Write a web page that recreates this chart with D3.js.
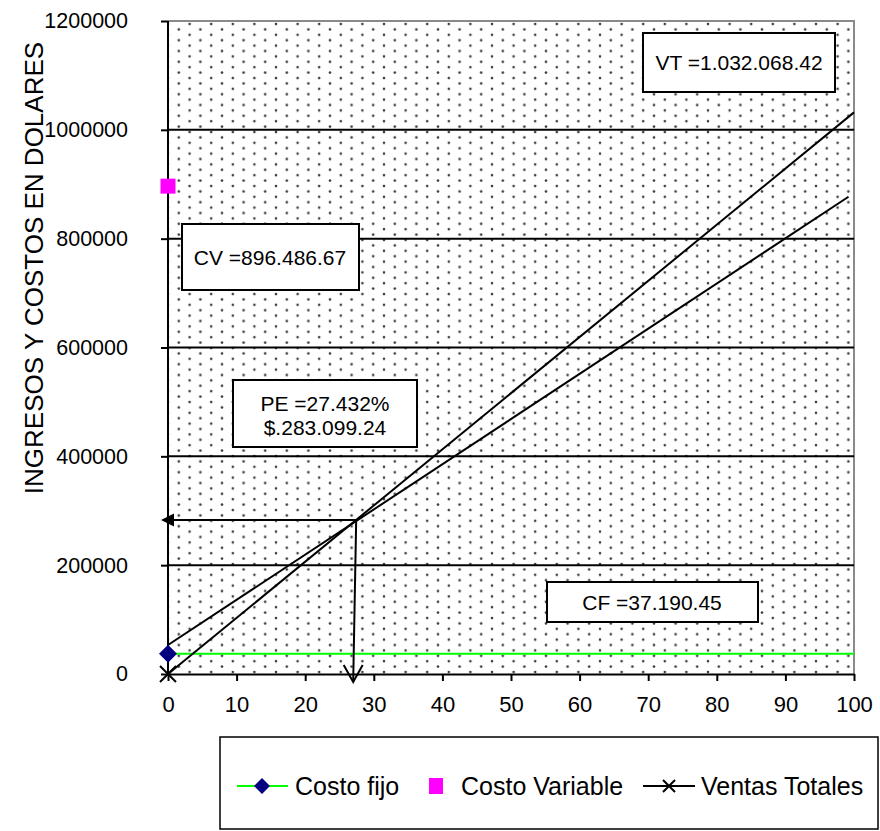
<!DOCTYPE html>
<html>
<head>
<meta charset="utf-8">
<script src="https://cdn.jsdelivr.net/npm/d3@7"></script>
<style>
  body { margin: 0; background: #fff; }
  text { font-family: "Liberation Sans", Arial, sans-serif; fill: #000; }
</style>
</head>
<body>
<svg id="chart" width="880" height="831"></svg>
<script>
// ---- data ----
const xTicks = [0, 10, 20, 30, 40, 50, 60, 70, 80, 90, 100];
const yTicks = [0, 200000, 400000, 600000, 800000, 1000000, 1200000];
const costoFijo = 37190.45;
const costoVariable = 896486.67;
const ventasTotales = 1032068.42;
const pePorcentaje = 27.432;
const peValor = 283099.24;
const costoFijoLinea = [[0, costoFijo], [100, costoFijo]];
const ventasLinea = [[0, 0], [100, ventasTotales]];
const costoTotalLinea = [[0, 53300], [99.2, 877000]];
const etiquetas = {
  vt: "VT =1.032.068.42",
  cv: "CV =896.486.67",
  pe1: "PE =27.432%",
  pe2: "$.283.099.24",
  cf: "CF =37.190.45"
};
const leyenda = ["Costo fijo", "Costo Variable", "Ventas Totales"];

// ---- layout ----
const svg = d3.select("#chart");
const plot = { left: 168, right: 854, top: 21, bottom: 674 };
const x = d3.scaleLinear().domain([0, 100]).range([plot.left, plot.right]);
const y = d3.scaleLinear().domain([0, 1200000]).range([plot.bottom, plot.top]);
const FONT = '"Liberation Sans", Arial, sans-serif';

// dotted fill pattern for the plot area
const defs = svg.append("defs");
const pat = defs.append("pattern")
  .attr("id", "dots").attr("patternUnits", "userSpaceOnUse")
  .attr("x", plot.left).attr("y", plot.top)
  .attr("width", 21.6).attr("height", 10.8);
pat.append("circle").attr("cx", 0).attr("cy", 3).attr("r", 1.3).attr("fill", "#3c3c3c");
pat.append("circle").attr("cx", 21.6).attr("cy", 3).attr("r", 1.3).attr("fill", "#3c3c3c");
pat.append("circle").attr("cx", 10.8).attr("cy", 8.4).attr("r", 1.3).attr("fill", "#3c3c3c");

svg.append("rect")
  .attr("x", plot.left).attr("y", plot.top)
  .attr("width", plot.right - plot.left).attr("height", plot.bottom - plot.top)
  .attr("fill", "url(#dots)");

// top and right frame
svg.append("path")
  .attr("d", `M${plot.left},${plot.top}H${plot.right}V${plot.bottom}`)
  .attr("fill", "none").attr("stroke", "#8a8a8a").attr("stroke-width", 2);

// horizontal gridlines
svg.append("g").selectAll("line")
  .data(yTicks.filter(v => v > 0 && v < 1200000))
  .join("line")
  .attr("x1", plot.left).attr("x2", plot.right)
  .attr("y1", d => y(d)).attr("y2", d => y(d))
  .attr("stroke", "#000").attr("stroke-width", 2);

// axes
const yAxis = svg.append("g")
  .attr("transform", `translate(${plot.left},0)`)
  .call(d3.axisLeft(y).tickValues(yTicks).tickFormat(d3.format("d")).tickSize(7).tickPadding(33).tickSizeOuter(0));
const xAxis = svg.append("g")
  .attr("transform", `translate(0,${plot.bottom})`)
  .call(d3.axisBottom(x).tickValues(xTicks).tickFormat(d3.format("d")).tickSize(7).tickPadding(15).tickSizeOuter(0));
[yAxis, xAxis].forEach(g => {
  g.attr("font-family", FONT);
  g.select(".domain").attr("stroke", "#000").attr("stroke-width", 2);
  g.selectAll(".tick line").attr("stroke", "#000").attr("stroke-width", 2);
  g.selectAll(".tick text").attr("fill", "#000").style("font-family", FONT);
});
yAxis.selectAll(".tick text").style("font-size", "21.5px");
xAxis.selectAll(".tick text").style("font-size", "22px");
yAxis.select(".domain").attr("d", `M0,${plot.top}V${plot.bottom}`);

// axis title
svg.append("text")
  .attr("transform", "translate(43,268) rotate(-90)")
  .attr("text-anchor", "middle")
  .style("font-size", "26px")
  .text("INGRESOS Y COSTOS EN DOLARES");

// series lines
const line = d3.line().x(d => x(d[0])).y(d => y(d[1]));
svg.append("path").datum(costoFijoLinea).attr("d", line)
  .attr("fill", "none").attr("stroke", "#00ff00").attr("stroke-width", 2);
svg.append("path").datum(ventasLinea).attr("d", line)
  .attr("fill", "none").attr("stroke", "#000").attr("stroke-width", 2);
svg.append("path").datum(costoTotalLinea).attr("d", line)
  .attr("fill", "none").attr("stroke", "#000").attr("stroke-width", 2);

// break-even arrows
const peX = x(pePorcentaje), peY = y(peValor);
svg.append("line")
  .attr("x1", peX).attr("y1", peY).attr("x2", x(0) - 4).attr("y2", peY)
  .attr("stroke", "#000").attr("stroke-width", 2);
svg.append("path")
  .attr("d", `M${x(0) - 7},${peY}l13,-6.5v13z`)
  .attr("fill", "#000");
const tipY = y(0) + 8;
svg.append("line")
  .attr("x1", peX).attr("y1", peY).attr("x2", peX - 3).attr("y2", tipY)
  .attr("stroke", "#000").attr("stroke-width", 2);
svg.append("path")
  .attr("d", `M${peX - 12.5},${tipY - 17}L${peX - 3},${tipY}L${peX + 6.5},${tipY - 17}`)
  .attr("fill", "none").attr("stroke", "#000").attr("stroke-width", 2);

// point markers
function diamond(g, cx, cy, r) {
  g.append("path")
    .attr("d", `M${cx},${cy - r}L${cx + r},${cy}L${cx},${cy + r}L${cx - r},${cy}Z`)
    .attr("fill", "#000080");
}
function cross(g, cx, cy, r) {
  g.append("path")
    .attr("d", `M${cx - r},${cy - r}L${cx + r},${cy + r}M${cx - r},${cy + r}L${cx + r},${cy - r}`)
    .attr("stroke", "#000").attr("stroke-width", 2).attr("fill", "none");
}
const marks = svg.append("g");
diamond(marks, x(0), y(costoFijo), 9);
marks.append("rect")
  .attr("x", x(0) - 7.5).attr("y", y(costoVariable) - 7.5)
  .attr("width", 15).attr("height", 15).attr("fill", "#ff00ff");
cross(marks, x(0), y(0), 8);

// value boxes
function box(x0, y0, w, h, lines, cx, baseY) {
  const g = svg.append("g");
  g.append("rect").attr("x", x0).attr("y", y0).attr("width", w).attr("height", h)
    .attr("fill", "#fff").attr("stroke", "#000").attr("stroke-width", 2);
  lines.forEach((t, i) => {
    g.append("text").attr("x", cx).attr("y", baseY + i * 24)
      .attr("text-anchor", "middle").style("font-size", "21px").text(t);
  });
}
box(643, 33, 192, 59, [etiquetas.vt], 739, 70);
box(182, 224, 177, 66, [etiquetas.cv], 270, 265);
box(233, 380, 184, 67, [etiquetas.pe1, etiquetas.pe2], 325, 411);
box(547, 582, 211, 40, [etiquetas.cf], 652, 610);

// legend
const lg = svg.append("g");
lg.append("rect").attr("x", 220).attr("y", 737).attr("width", 658).attr("height", 92)
  .attr("fill", "#fff").attr("stroke", "#000").attr("stroke-width", 1.5);
const ly = 786;
lg.append("line").attr("x1", 237).attr("x2", 288).attr("y1", ly).attr("y2", ly)
  .attr("stroke", "#00ff00").attr("stroke-width", 2);
diamond(lg, 262, ly, 8);
lg.append("text").attr("x", 295).attr("y", ly + 9).style("font-size", "25px").text(leyenda[0]);
lg.append("rect").attr("x", 429).attr("y", ly - 8).attr("width", 14).attr("height", 16).attr("fill", "#ff00ff");
lg.append("text").attr("x", 461).attr("y", ly + 9).style("font-size", "25px").text(leyenda[1]);
lg.append("line").attr("x1", 643).attr("x2", 695).attr("y1", ly).attr("y2", ly)
  .attr("stroke", "#000").attr("stroke-width", 2);
cross(lg, 669, ly, 6);
lg.append("text").attr("x", 701).attr("y", ly + 9).style("font-size", "25px").text(leyenda[2]);
</script>
</body>
</html>
